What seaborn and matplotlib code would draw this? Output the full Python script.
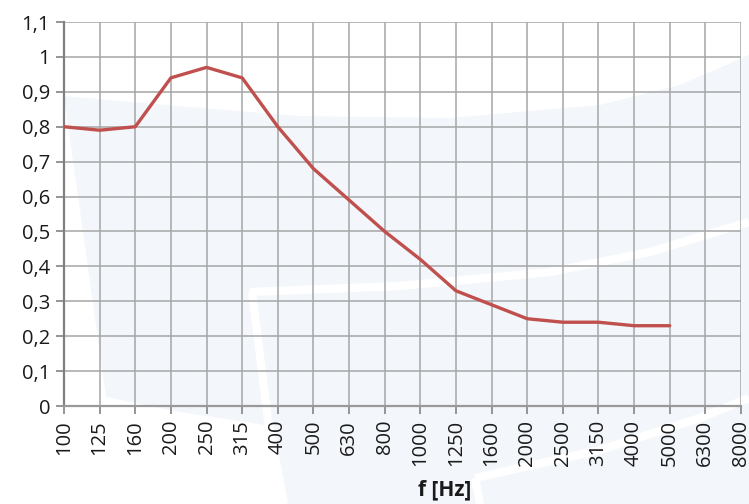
import numpy as np
import pandas as pd
import matplotlib
matplotlib.use("Agg")
import matplotlib.pyplot as plt
import seaborn as sns
from matplotlib.patches import Polygon
from matplotlib.lines import Line2D

freqs = ["100", "125", "160", "200", "250", "315", "400", "500", "630", "800",
         "1000", "1250", "1600", "2000", "2500", "3150", "4000", "5000", "6300", "8000"]
alpha = [0.80, 0.79, 0.80, 0.94, 0.97, 0.94, 0.80, 0.68, 0.59, 0.50,
         0.42, 0.33, 0.29, 0.25, 0.24, 0.24, 0.23, 0.23, np.nan, np.nan]
yticks = [0, 0.1, 0.2, 0.3, 0.4, 0.5, 0.6, 0.7, 0.8, 0.9, 1.0, 1.1]
ylabels = ["0", "0,1", "0,2", "0,3", "0,4", "0,5", "0,6", "0,7", "0,8", "0,9", "1", "1,1"]

sns.set_style("white")
plt.rcParams["font.family"] = ["Open Sans", "DejaVu Sans"]

W, H = 749, 504
fig = plt.figure(figsize=(W / 100, H / 100), dpi=100)

# background axes for the faint watermark
bgax = fig.add_axes([0, 0, 1, 1], zorder=0)
bgax.set_xlim(0, W)
bgax.set_ylim(H, 0)
bgax.axis("off")
bgax.add_patch(Polygon([(64, 96), (200, 108), (300, 116), (450, 118), (600, 105), (680, 85), (749, 55),
                        (749, 504), (285, 504), (265, 425), (180, 412), (106, 397)],
                       closed=True, facecolor="#f3f6fa", edgecolor="none"))
for pts in [[(250, 292), (400, 286), (550, 272), (650, 252), (749, 222)],
            [(252, 292), (268, 420), (284, 504)],
            [(475, 478), (600, 450), (700, 418), (749, 398)],
            [(475, 478), (480, 504)]]:
    xs, ys = zip(*pts)
    bgax.plot(xs, ys, color="white", lw=6, solid_capstyle="butt")

ax = fig.add_axes([64 / W, 1 - 406 / H, (741 - 64) / W, (406 - 22) / H], zorder=2)
ax.set_facecolor("none")

df = pd.DataFrame({"pos": np.arange(len(freqs)), "alpha": alpha})
sns.lineplot(data=df, x="pos", y="alpha", ax=ax, color="#c0504d", linewidth=2.4, zorder=3)

ax.set_xlim(0, len(freqs) - 1)
ax.set_ylim(0, 1.1)
ax.set_xticks(np.arange(len(freqs)))
ax.set_xticklabels(freqs, rotation=90, fontsize=14.5, color="#1a1a1a")
ax.set_yticks(yticks)
ax.set_yticklabels(ylabels, fontsize=14.5, color="#1a1a1a")

ax.grid(True, color="#a6a6a6", linewidth=1.1)
ax.set_axisbelow(True)
for s in ["top", "right"]:
    ax.spines[s].set_visible(False)
ax.spines["left"].set_color("#808080")
ax.spines["left"].set_linewidth(1.6)
ax.spines["bottom"].set_color("#999999")
ax.spines["bottom"].set_linewidth(1.6)
ax.tick_params(axis="both", which="both", direction="out", length=5.5, width=1.3,
               color="#8c8c8c", pad=4.5, left=True, bottom=True)

ax.set_ylabel("")
ax.set_xlabel("f [Hz]", fontsize=15, fontweight="bold", color="#1a1a1a")
ax.xaxis.set_label_coords((445 - 64) / (741 - 64), -(490 - 406) / (406 - 22), transform=ax.transAxes)
ax.xaxis.label.set_verticalalignment("center")

fig.savefig("out.png", dpi=100)
